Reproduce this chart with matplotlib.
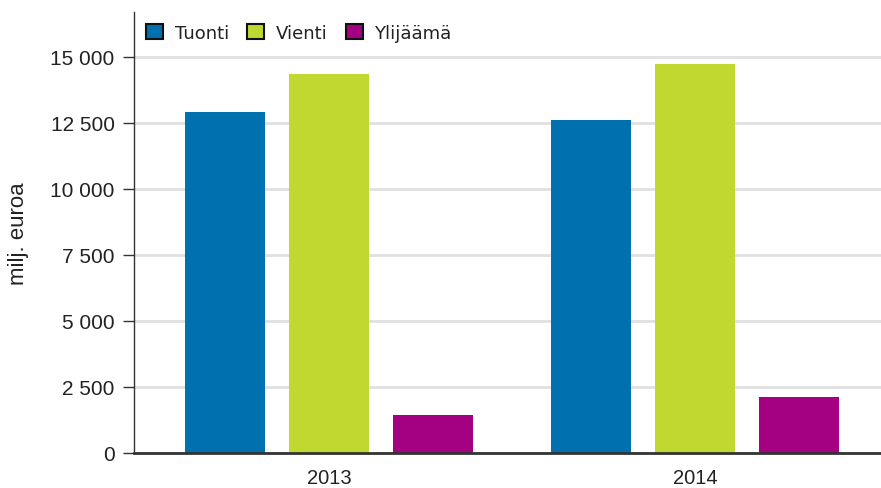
import numpy as np
import matplotlib
matplotlib.use('Agg')
import matplotlib.pyplot as plt
from matplotlib.ticker import FuncFormatter

years = ['2013', '2014']
series_names = ['Tuonti', 'Vienti', 'Ylijäämä']
tuonti = [12900, 12600]
vienti = [14350, 14730]
ylijaama = [1450, 2130]
colors = ['#0071ae', '#c1d831', '#a30082']

y_ticks = [0, 2500, 5000, 7500, 10000, 12500, 15000]


def thousands(v, pos):
    # Finnish style: space as thousands separator
    return f"{int(v):,}".replace(',', ' ')


def main():
    plt.rcParams['font.family'] = ['Liberation Sans', 'DejaVu Sans']
    fig = plt.figure(figsize=(8.81, 4.89), dpi=100)
    ax = fig.add_axes([134 / 881, 35 / 489, 747 / 881, 441 / 489])

    x = np.arange(len(years))
    width = 0.2186
    step = 0.284
    values = [tuonti, vienti, ylijaama]
    for i, (name, vals) in enumerate(zip(series_names, values)):
        ax.bar(x + (i - 1) * step, vals, width, color=colors[i], label=name,
               zorder=3, edgecolor='none')

    ax.set_xlim(-0.533, 1.508)
    ax.set_ylim(0, 16700)
    ax.set_yticks(y_ticks)
    ax.yaxis.set_major_formatter(FuncFormatter(thousands))
    ax.set_xticks(x)
    ax.set_xticklabels(years)
    ax.tick_params(axis='x', length=0, labelsize=14.5, labelcolor='#222222', pad=11)
    ax.tick_params(axis='y', length=8, width=1, labelsize=15, colors='#333333',
                   labelcolor='#222222', pad=6)

    ax.grid(axis='y', color='#e0e0e0', linewidth=2, zorder=0)
    ax.set_axisbelow(True)
    for side in ['top', 'right']:
        ax.spines[side].set_visible(False)
    ax.spines['left'].set_color('#333333')
    ax.spines['left'].set_linewidth(1)
    ax.spines['bottom'].set_color('#333333')
    ax.spines['bottom'].set_linewidth(2)
    ax.spines['bottom'].set_zorder(4)

    ax.set_ylabel('milj. euroa', fontsize=16, color='#222222')
    ax.yaxis.set_label_coords(-0.14, 0.5)

    leg = ax.legend(loc='upper left', ncol=3, frameon=False,
                    bbox_to_anchor=(0.0, 1.0), handlelength=0.95,
                    handleheight=0.95, handletextpad=0.65, columnspacing=1.0,
                    borderaxespad=0.25,
                    prop={'family': 'DejaVu Sans', 'size': 13})
    for h in leg.legend_handles:
        h.set_edgecolor('#111111')
        h.set_linewidth(1.5)
    for t in leg.get_texts():
        t.set_color('#222222')

    fig.savefig('out.png', dpi=100)


if __name__ == '__main__':
    main()
